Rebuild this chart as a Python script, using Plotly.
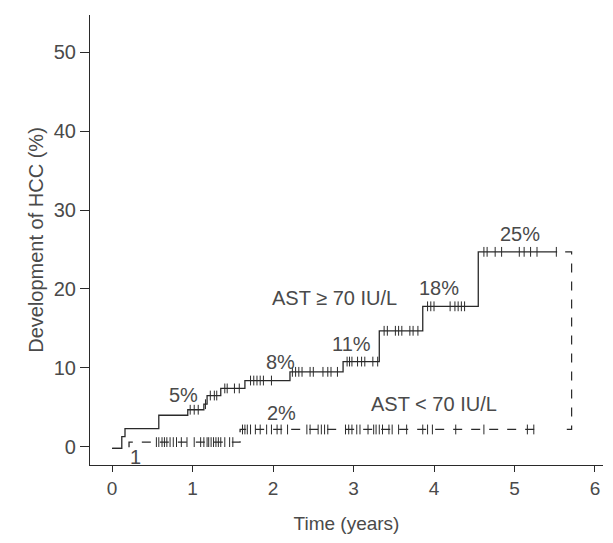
import plotly.graph_objects as go

# AST >= 70 IU/L (solid step curve)
high_t = [0.0, 0.12, 0.16, 0.58, 0.94, 1.14, 1.18, 1.35, 1.65, 2.21, 2.87, 3.32, 3.86, 4.55, 5.53]
high_v = [-0.2, 1.3, 2.3, 4.0, 4.7, 5.4, 6.5, 7.4, 8.4, 9.5, 10.8, 14.7, 17.8, 24.7, 24.7]
high_censor = [0.97, 1.02, 1.07, 1.16, 1.22, 1.27, 1.30, 1.40, 1.43, 1.52, 1.58,
               1.72, 1.76, 1.80, 1.84, 1.88, 1.98, 2.24, 2.28, 2.32, 2.36, 2.46, 2.50,
               2.62, 2.68, 2.72, 2.80, 2.92, 2.95, 2.98, 3.05, 3.10, 3.14, 3.24, 3.30,
               3.38, 3.42, 3.52, 3.56, 3.60, 3.70, 3.74, 3.80, 3.92, 3.96, 4.00, 4.20,
               4.26, 4.30, 4.34, 4.38, 4.62, 4.66, 4.76, 4.84, 5.06, 5.12, 5.20, 5.28, 5.52]

# AST < 70 IU/L (dashed step curve)
low_t = [0.0, 0.21, 1.59, 5.26]
low_v = [-0.2, 0.6, 2.2, 2.2]
low_censor = [0.55, 0.58, 0.62, 0.65, 0.68, 0.72, 0.76, 0.80, 0.86, 0.93, 1.02, 1.10,
              1.14, 1.18, 1.20, 1.23, 1.26, 1.29, 1.32, 1.35, 1.40, 1.46, 1.50, 1.62,
              1.65, 1.68, 1.72, 1.78, 1.84, 1.92, 1.98, 2.05, 2.10, 2.18, 2.42, 2.46,
              2.56, 2.60, 2.64, 2.68, 2.90, 2.94, 2.98, 3.04, 3.08, 3.18, 3.25, 3.28,
              3.32, 3.36, 3.44, 3.48, 3.56, 3.66, 3.86, 3.92, 3.98, 4.27, 4.62, 5.16, 5.24]

x_ticks = [0, 1, 2, 3, 4, 5, 6]
y_ticks = [0, 10, 20, 30, 40, 50]

# percentage labels: (time, value, text)
pct_t = [0.89, 2.09, 2.97, 4.06, 5.07, 2.10]
pct_v = [6.6, 10.8, 13.0, 20.1, 27.0, 4.3]
pct_text = ["5%", "8%", "11%", "18%", "25%", "2%"]

INK = "#2a2a2a"
TXT = "#4a4a4a"
FONT = "Liberation Sans, Arial, sans-serif"


def step_value(ts, vs, t):
    val = vs[0]
    for tt, vv in zip(ts, vs):
        if tt <= t:
            val = vv
    return val


fig = go.Figure()

fig.add_trace(go.Scatter(x=high_t, y=high_v, mode="lines", line_shape="hv",
                         line=dict(color=INK, width=1.3), showlegend=False, hoverinfo="skip"))
fig.add_trace(go.Scatter(x=low_t, y=low_v, mode="lines", line_shape="hv",
                         line=dict(color=INK, width=1.3, dash="dash"), showlegend=False, hoverinfo="skip"))

fig.add_trace(go.Scatter(x=high_censor, y=[step_value(high_t, high_v, t) for t in high_censor],
                         mode="markers", marker=dict(symbol="line-ns", size=7,
                                                     line=dict(color=INK, width=1)),
                         showlegend=False, hoverinfo="skip"))
fig.add_trace(go.Scatter(x=low_censor, y=[step_value(low_t, low_v, t) for t in low_censor],
                         mode="markers", marker=dict(symbol="line-ns", size=7,
                                                     line=dict(color=INK, width=1)),
                         showlegend=False, hoverinfo="skip"))

# comparison bracket derived from curve ends
bx = max(high_t[-1], low_t[-1]) + 0.18
fig.add_trace(go.Scatter(x=[bx - 0.08, bx, bx, bx - 0.06],
                         y=[high_v[-1], high_v[-1], low_v[-1], low_v[-1]],
                         mode="lines", line=dict(color=INK, width=1.2, dash="dash"),
                         showlegend=False, hoverinfo="skip"))

for t, v, s in zip(pct_t, pct_v, pct_text):
    fig.add_annotation(x=t, y=v, text=s, showarrow=False,
                       font=dict(family=FONT, size=20, color=TXT))

fig.add_annotation(x=2.76, y=18.9, text="AST ≥ 70 IU/L", showarrow=False,
                   font=dict(family=FONT, size=20, color=TXT))
fig.add_annotation(x=4.0, y=5.4, text="AST < 70 IU/L", showarrow=False,
                   font=dict(family=FONT, size=20, color=TXT))
fig.add_annotation(x=0.29, y=-1.3, text="1", showarrow=False,
                   font=dict(family=FONT, size=20, color=TXT))

fig.update_layout(
    width=613, height=543,
    margin=dict(l=82, r=18, t=7, b=86),
    plot_bgcolor="white", paper_bgcolor="white",
    font=dict(family=FONT, color=TXT),
    xaxis=dict(range=[-0.275, 6.1], tickvals=x_ticks, showgrid=False, zeroline=False,
               automargin=False,
               showline=True, linecolor=INK, linewidth=1.2, ticks="outside", ticklen=6,
               tickcolor=INK, tickfont=dict(size=19, color=TXT),
               title=dict(text="Time (years)", font=dict(size=19, color=TXT), standoff=18)),
    yaxis=dict(range=[-2.3, 54.7], tickvals=y_ticks, showgrid=False, zeroline=False,
               automargin=False,
               showline=True, linecolor=INK, linewidth=1.2, ticks="outside", ticklen=9,
               tickcolor=INK, tickfont=dict(size=20, color=TXT),
               title=dict(text="Development of HCC (%)", font=dict(size=20, color=TXT), standoff=4)),
)

fig.write_html("out.html")
